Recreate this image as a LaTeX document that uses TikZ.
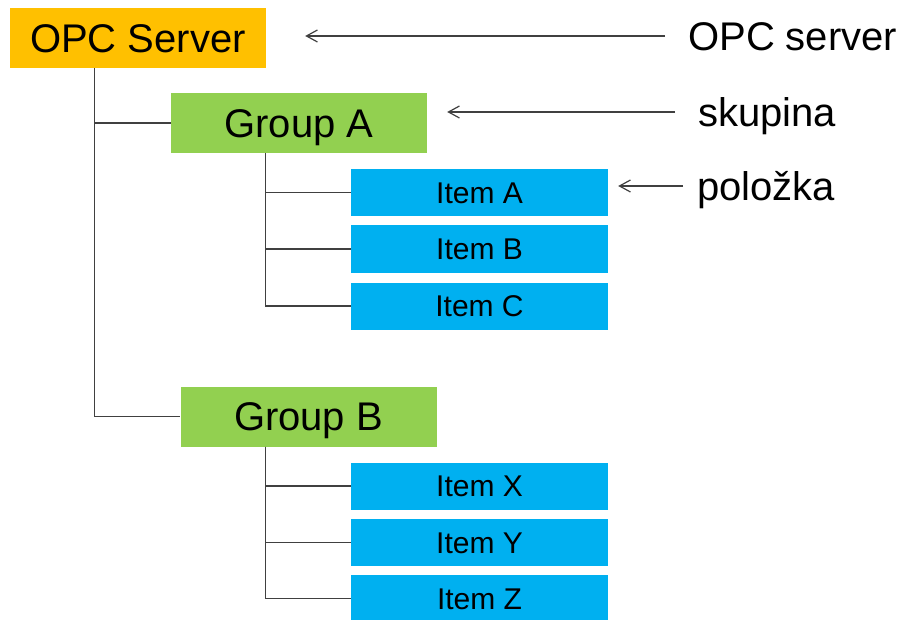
\documentclass[tikz,border=0pt]{standalone}
\usepackage{fontspec}
\setmainfont{Liberation Sans}
\usepackage{tikz}
\usetikzlibrary{arrows.meta}
\definecolor{opcorange}{HTML}{FFC000}
\definecolor{opcgreen}{HTML}{92D050}
\definecolor{opcblue}{HTML}{00B0F0}
\definecolor{linegray}{HTML}{404040}

\begin{document}
\begin{tikzpicture}[x=1pt,y=-1pt]
  \tikzset{ServerStyle/.style = {
    shape         = rectangle,
    draw          = none,
    fill          = opcorange,
    text          = black,
    inner sep     = 0pt,
    minimum width = 256pt,
    minimum height= 60pt,
    text height   = 28.6pt,
    text depth    = 0pt,
    font          = \fontsize{40}{48}\selectfont
    }
  }
  \tikzset{GroupStyle/.style = {
    ServerStyle,
    fill          = opcgreen
    }
  }
  \tikzset{ItemStyle/.style = {
    shape         = rectangle,
    draw          = none,
    fill          = opcblue,
    text          = black,
    inner sep     = 0pt,
    minimum width = 257pt,
    minimum height= 47pt,
    text height   = 21.5pt,
    text depth    = 0pt,
    font          = \fontsize{30}{36}\selectfont
    }
  }
  \tikzset{LabelStyle/.style = {
    anchor        = west,
    inner sep     = 0pt,
    text          = black,
    text height   = 30pt,
    text depth    = 0pt,
    font          = \fontsize{40}{48}\selectfont
    }
  }
  \tikzset{EdgeStyle/.style = {
    draw          = linegray,
    line width    = 1.3pt
    }
  }
  \tikzset{PointerStyle/.style = {
    draw          = linegray,
    line width    = 1.2pt,
    -{Straight Barb[length=11pt,width=12pt]}
    }
  }

  \useasboundingbox (0,0) rectangle (901,620);

	\node[ServerStyle](srv) at (138, 38) {OPC Server};
	\node[GroupStyle](grpA) at (299, 123) {Group A};
	\node[GroupStyle](grpB) at (308.5, 416.5) {Group B};
	\node[ItemStyle](itemA) at (479.5, 192.5) {Item A};
	\node[ItemStyle](itemB) at (479.5, 249) {Item B};
	\node[ItemStyle](itemC) at (479.5, 306) {Item C};
	\node[ItemStyle](itemX) at (479.5, 486) {Item X};
	\node[ItemStyle](itemY) at (479.5, 542.5) {Item Y};
	\node[ItemStyle](itemZ) at (479.5, 598.5) {Item Z};
	\draw[EdgeStyle]([xshift=85pt]srv.south west) |- (grpA.west);
	\draw[EdgeStyle]([xshift=85pt]srv.south west) |- (grpB.west);
	\draw[EdgeStyle]([xshift=95pt]grpA.south west) |- (itemA.west);
	\draw[EdgeStyle]([xshift=95pt]grpA.south west) |- (itemB.west);
	\draw[EdgeStyle]([xshift=95pt]grpA.south west) |- (itemC.west);
	\draw[EdgeStyle]([xshift=85.5pt]grpB.south west) |- (itemX.west);
	\draw[EdgeStyle]([xshift=85.5pt]grpB.south west) |- (itemY.west);
	\draw[EdgeStyle]([xshift=85.5pt]grpB.south west) |- (itemZ.west);

  \node[LabelStyle] at (688, 36) (lblSrv) {OPC server};
  \node[LabelStyle] at (698, 112) (lblGrp) {skupina};
  \node[LabelStyle] at (697, 186) (lblItem) {položka};
	\draw[PointerStyle, shorten <=23pt, shorten >=39pt](lblSrv.west) -- (lblSrv.west -| srv.east);
	\draw[PointerStyle, shorten <=23pt, shorten >=20pt](lblGrp.west) -- (lblGrp.west -| grpA.east);
	\draw[PointerStyle, shorten <=14pt, shorten >=10pt](lblItem.west) -- (lblItem.west -| itemA.east);

  \end{tikzpicture}
\end{document}
